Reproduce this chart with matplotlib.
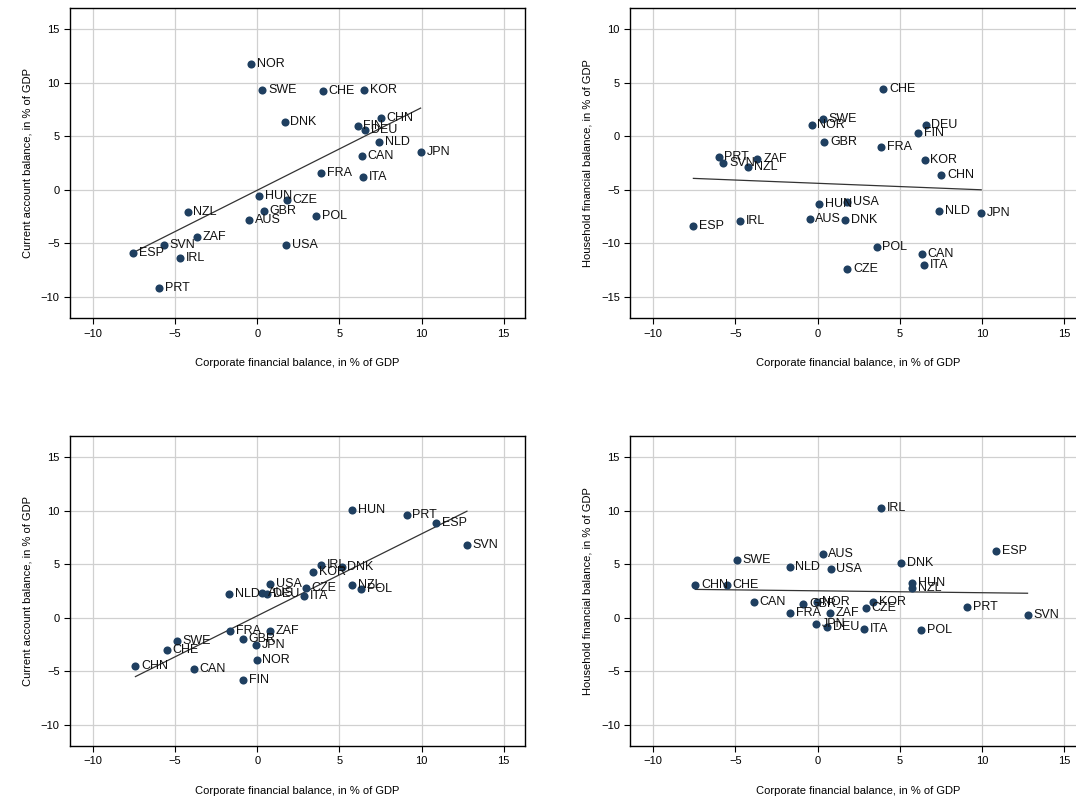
import numpy as np
import matplotlib.pyplot as plt

plt.rcParams['font.family'] = ['Liberation Sans', 'DejaVu Sans']

# panel 1: current account vs corporate balance
c1 = ["NOR", "SWE", "CHE", "KOR", "DNK", "CHN", "FIN", "DEU", "NLD", "JPN", "CAN", "FRA", "ITA",
      "HUN", "CZE", "NZL", "GBR", "AUS", "POL", "ZAF", "SVN", "ESP", "IRL", "USA", "PRT"]
x1 = [-0.37, 0.30, 4.0, 6.51, 1.66, 7.53, 6.1, 6.57, 7.4, 9.94, 6.35, 3.87, 6.43,
      0.1, 1.8, -4.24, 0.41, -0.49, 3.59, -3.65, -5.7, -7.55, -4.69, 1.76, -5.98]
y1 = [11.78, 9.38, 9.22, 9.31, 6.34, 6.72, 6.0, 5.63, 4.5, 3.56, 3.19, 1.59, 1.25,
      -0.56, -0.97, -2.03, -1.94, -2.81, -2.44, -4.44, -5.19, -5.94, -6.34, -5.19, -9.13]

# panel 2: household balance vs corporate balance
c2 = ["CHE", "SWE", "NOR", "DEU", "FIN", "GBR", "FRA", "PRT", "ZAF", "SVN", "NZL", "KOR", "CHN",
      "HUN", "USA", "NLD", "JPN", "ESP", "IRL", "AUS", "DNK", "POL", "CAN", "ITA", "CZE"]
x2 = [4.0, 0.3, -0.37, 6.57, 6.12, 0.41, 3.88, -6.02, -3.66, -5.73, -4.23, 6.52, 7.54,
      0.1, 1.79, 7.42, 9.96, -7.56, -4.7, -0.49, 1.67, 3.6, 6.36, 6.46, 1.81]
y2 = [4.47, 1.63, 1.06, 1.09, 0.28, -0.53, -1.03, -1.97, -2.09, -2.44, -2.88, -2.16, -3.56,
      -6.28, -6.09, -6.97, -7.13, -8.41, -7.88, -7.72, -7.78, -10.31, -11.0, -12.0, -12.4]

# panel 3: current account vs corporate balance (second period)
c3 = ["HUN", "PRT", "ESP", "SVN", "IRL", "DNK", "KOR", "USA", "CZE", "NZL", "POL", "NLD", "AUS",
      "DEU", "ITA", "FRA", "ZAF", "SWE", "GBR", "CHE", "JPN", "NOR", "CHN", "CAN", "FIN"]
x3 = [5.76, 9.09, 10.87, 12.76, 3.89, 5.13, 3.41, 0.79, 2.96, 5.76, 6.31, -1.7, 0.3,
      0.61, 2.82, -1.66, 0.75, -4.89, -0.87, -5.52, -0.06, -0.04, -7.42, -3.85, -0.85]
y3 = [10.03, 9.63, 8.81, 6.81, 4.94, 4.69, 4.28, 3.13, 2.81, 3.06, 2.66, 2.16, 2.34,
      2.16, 2.03, -1.28, -1.25, -2.16, -2.0, -3.0, -2.59, -3.97, -4.53, -4.81, -5.81]

# panel 4: household balance vs corporate balance (second period)
c4 = ["IRL", "ESP", "SWE", "AUS", "DNK", "NLD", "USA", "CHN", "CHE", "HUN", "NZL", "CAN", "GBR",
      "NOR", "KOR", "FRA", "ZAF", "CZE", "PRT", "SVN", "JPN", "DEU", "ITA", "POL"]
x4 = [3.88, 10.89, -4.9, 0.3, 5.1, -1.71, 0.79, -7.44, -5.53, 5.77, 5.77, -3.88, -0.87,
      -0.06, 3.39, -1.69, 0.75, 2.95, 9.09, 12.78, -0.08, 0.59, 2.83, 6.32]
y4 = [10.25, 6.22, 5.34, 5.91, 5.13, 4.69, 4.56, 3.09, 3.09, 3.19, 2.81, 1.41, 1.31,
      1.47, 1.44, 0.44, 0.47, 0.88, 0.97, 0.22, -0.59, -0.91, -1.03, -1.16]

ticks_a = [-10, -5, 0, 5, 10, 15]
ticks_b = [-15, -10, -5, 0, 5, 10]
panels = [
    (c1, x1, y1, "Current account balance, in % of GDP", (-12, 17), ticks_a),
    (c2, x2, y2, "Household financial balance, in % of GDP", (-17, 12), ticks_b),
    (c3, x3, y3, "Current account balance, in % of GDP", (-12, 17), ticks_a),
    (c4, x4, y4, "Household financial balance, in % of GDP", (-12, 17), ticks_a),
]
rects = [
    [0.0651, 0.6026, 0.4229, 0.3874],
    [0.5858, 0.6026, 0.4229, 0.3874],
    [0.0651, 0.0687, 0.4229, 0.3874],
    [0.5858, 0.0687, 0.4229, 0.3874],
]

fig = plt.figure(figsize=(10.76, 8.01), dpi=100)
for (names, xs, ys, ylab, ylim, yt), r in zip(panels, rects):
    ax = fig.add_axes(r)
    xs = np.array(xs)
    ys = np.array(ys)
    ax.grid(True, color="#d0d0d0", linewidth=0.9)
    ax.set_axisbelow(True)
    b, a = np.polyfit(xs, ys, 1)
    xx = np.array([xs.min(), xs.max()])
    ax.plot(xx, a + b * xx, color="#333333", linewidth=0.9, zorder=2)
    ax.scatter(xs, ys, s=34, color="#1f3f60", zorder=3, linewidths=0)
    for n, x, y in zip(names, xs, ys):
        ax.text(x + 0.35, y, n, fontsize=9, va="center", ha="left", color="#111111", zorder=4)
    ax.set_xlim(-11.4, 16.3)
    ax.set_ylim(*ylim)
    ax.set_xticks([-10, -5, 0, 5, 10, 15])
    ax.set_yticks(yt)
    ax.set_xticklabels(["\u221210", "\u22125", "0", "5", "10", "15"])
    ax.set_yticklabels([str(v).replace("-", "\u2212") for v in yt])
    ax.tick_params(labelsize=8, length=4, width=0.8)
    ax.set_xlabel("Corporate financial balance, in % of GDP", fontsize=8, labelpad=14)
    ax.set_ylabel(ylab, fontsize=8, labelpad=6)
    for s in ax.spines.values():
        s.set_linewidth(1.0)

fig.savefig("out.png", dpi=100)
